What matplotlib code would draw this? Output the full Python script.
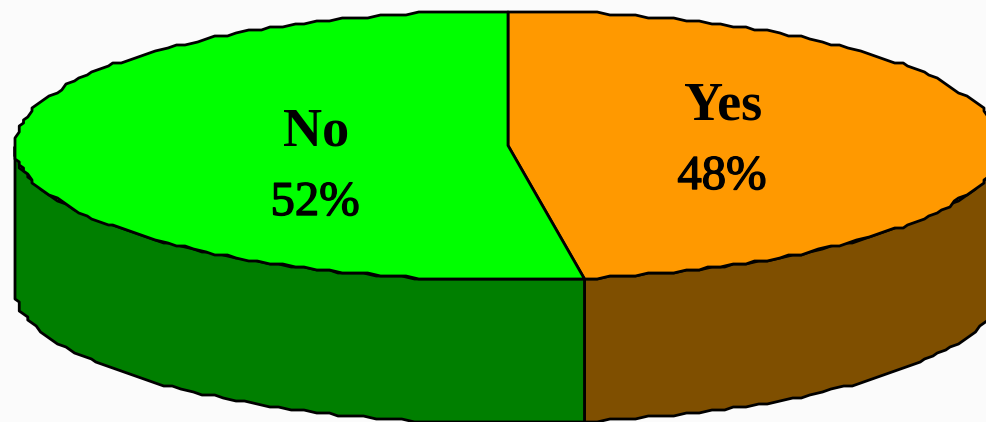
"""
Flat 3D style pie chart, Yes / No split
"""

import numpy as np
from matplotlib import pyplot as plt
from matplotlib.patches import Polygon
import matplotlib.patheffects as pe

# data
categories = ["Yes", "No"]
shares = [47.5, 52.5]
top_colors = ["#ff9900", "#00ff00"]
side_colors = ["#7f4f00", "#007f00"]

# positions of the labels in pixels (name line, percent line)
label_pos = [(723, 106, 722, 177), (316, 132, 315, 203)]

# pie geometry in pixels
cx, cy = 508, 145.5
rx, ry = 493, 134.5
depth = 143
y_step = 3.0  # the outline of the original is coarse, short flats and small slants
x_step = rx / 116
sample = 1.5

W, H = 986, 422
fig = plt.figure(figsize=(W / 100, H / 100), dpi=100, facecolor="#fbfbfb")
ax = fig.add_axes([0, 0, 1, 1])
ax.set_xlim(0, W)
ax.set_ylim(H, 0)
ax.axis("off")


def rim(a0, a1):
    # points on the ellipse, angles clockwise from the top, snapped to a coarse grid
    n = max(int(abs(a1 - a0) / sample), 2)
    t = np.radians(np.linspace(a0, a1, n))
    x = rx * np.sin(t)
    y = cy - ry * np.cos(t)
    x = cx + np.round(x / x_step) * x_step
    y = np.round(y / y_step) * y_step
    return np.column_stack([x, y])


edges = np.cumsum([0] + shares) / sum(shares) * 360

# side walls, only the front half of the rim is visible
for i in range(len(shares)):
    a0, a1 = max(edges[i], 90), min(edges[i + 1], 270)
    r = rim(a0, a1)
    wall = np.vstack([r, (r + [0, depth])[::-1]])
    ax.add_patch(Polygon(wall, closed=True, fc=side_colors[i], ec="black", lw=2, joinstyle="round"))

# top faces
for i in range(len(shares)):
    r = rim(edges[i], edges[i + 1])
    face = np.vstack([[cx, cy], r])
    ax.add_patch(Polygon(face, closed=True, fc=top_colors[i], ec="black", lw=2, joinstyle="round"))

for name, share, pos in zip(categories, shares, label_pos):
    ax.text(pos[0], pos[1], name, family="Liberation Serif", weight="bold", fontsize=39,
            ha="center", va="center")
    ax.text(pos[2], pos[3], f"{share:.0f}%", family="Liberation Serif", fontsize=35,
            ha="center", va="center",
            path_effects=[pe.withStroke(linewidth=1.0, foreground="black")])

fig.savefig("out.png", dpi=100, facecolor=fig.get_facecolor())
